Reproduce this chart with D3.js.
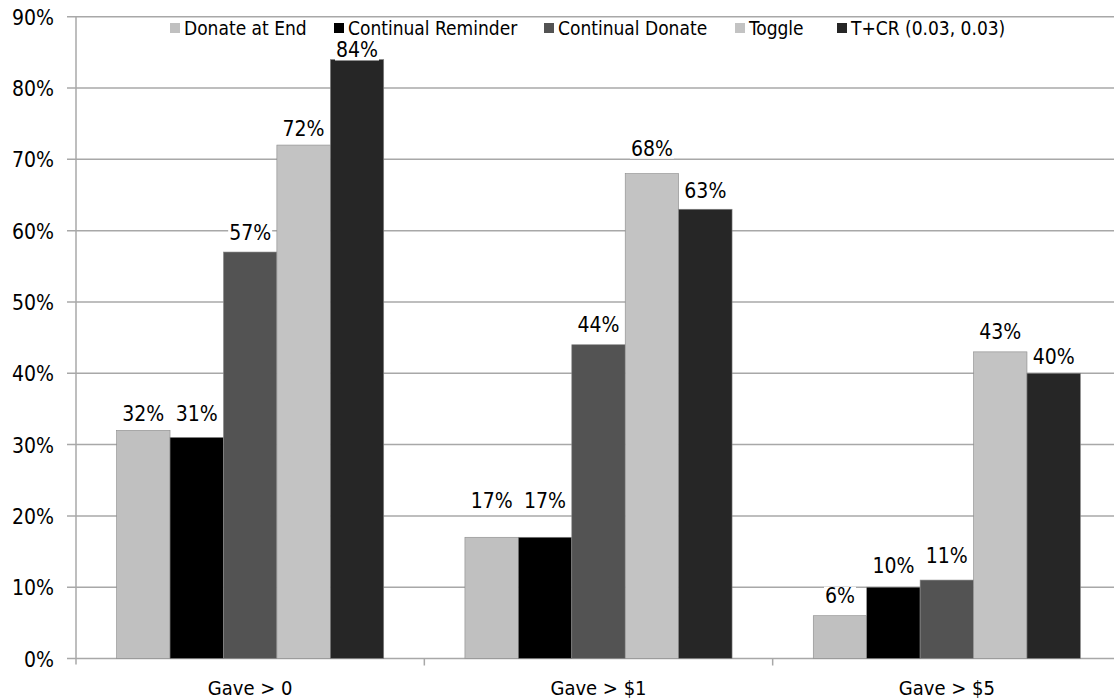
<!DOCTYPE html>
<html>
<head>
<meta charset="utf-8">
<script src="https://cdn.jsdelivr.net/npm/d3@7"></script>
<style>
  html, body { margin: 0; padding: 0; background: #fff; }
  svg { display: block; }
  text { font-family: "DejaVu Sans Condensed", "DejaVu Sans", sans-serif; fill: #000; }
</style>
</head>
<body>
<svg id="chart" width="1114" height="700"></svg>
<script>
// Share of participants who gave, by condition and donation threshold
const categories = ["Gave > 0", "Gave > $1", "Gave > $5"];
const seriesNames = ["Donate at End", "Continual Reminder", "Continual Donate", "Toggle", "T+CR (0.03, 0.03)"];
const seriesColors = ["#c0c0c0", "#000000", "#535353", "#c3c3c3", "#262626"];
const donateAtEnd       = [0.32, 0.17, 0.06];
const continualReminder = [0.31, 0.17, 0.10];
const continualDonate   = [0.57, 0.44, 0.11];
const toggle            = [0.72, 0.68, 0.43];
const tcr               = [0.84, 0.63, 0.40];
const seriesValues = [donateAtEnd, continualReminder, continualDonate, toggle, tcr];
const yTicks = [0, 0.1, 0.2, 0.3, 0.4, 0.5, 0.6, 0.7, 0.8, 0.9];

// layout: pixel gap between each bar top and its value label (series x category)
const labelGaps = [
  [9, 29, 13],
  [16, 29, 14],
  [12, 13, 17],
  [9, 18, 13],
  [2, 11, 9]
];

const svg = d3.select("#chart");
const plotLeft = 76, plotRight = 1121, plotTop = 16.7, plotBottom = 658.5;
const legendFont = 19, numberFont = 21, categoryFont = 20;

const x0 = d3.scaleBand().domain(categories).range([plotLeft, plotRight]).paddingInner(0).paddingOuter(0);
const x1 = d3.scaleBand().domain(seriesNames).range([0, x0.bandwidth()]).paddingInner(0).paddingOuter(0.76);
const y = d3.scaleLinear().domain([0, 0.9]).range([plotBottom, plotTop]);
const fmt = d3.format(".0%");

// horizontal gridlines with short ticks to the left of the axis
svg.append("g").selectAll("line").data(yTicks).join("line")
  .attr("x1", plotLeft - 9).attr("x2", plotRight)
  .attr("y1", d => y(d)).attr("y2", d => y(d))
  .attr("stroke", "#a8a8a8").attr("stroke-width", 1.5);

// value axis
const yAxis = svg.append("g").attr("transform", `translate(${plotLeft},0)`)
  .call(d3.axisLeft(y).tickValues(yTicks).tickFormat(fmt).tickSize(0).tickPadding(22));
yAxis.select(".domain").remove();
yAxis.selectAll("text").attr("font-size", numberFont).attr("font-family", null).attr("dy", "0.36em");

// bars
const groups = svg.append("g").selectAll("g").data(categories).join("g")
  .attr("transform", d => `translate(${x0(d)},0)`);

const cells = groups.selectAll("g")
  .data((c, ci) => seriesNames.map((s, si) => ({ s, si, ci, v: seriesValues[si][ci] })))
  .join("g");

cells.append("rect")
  .attr("x", d => x1(d.s)).attr("width", x1.bandwidth())
  .attr("y", d => y(d.v)).attr("height", d => plotBottom - y(d.v))
  .attr("fill", d => seriesColors[d.si])
  .attr("stroke", "#8a8a8a").attr("stroke-width", 0.6);

// value labels on white boxes
cells.each(function(d) {
  const g = d3.select(this);
  const cx = x1(d.s) + x1.bandwidth() / 2;
  const t = g.append("text")
    .attr("x", cx).attr("y", y(d.v) - labelGaps[d.si][d.ci])
    .attr("text-anchor", "middle").attr("font-size", numberFont)
    .text(fmt(d.v));
  const bb = t.node().getBBox();
  g.insert("rect", "text")
    .attr("x", bb.x - 1).attr("y", bb.y + 3).attr("width", bb.width + 2).attr("height", bb.height - 5)
    .attr("fill", "#fff");
});

// category axis
svg.append("line").attr("x1", plotLeft).attr("x2", plotLeft).attr("y1", plotTop).attr("y2", plotBottom + 6)
  .attr("stroke", "#a8a8a8").attr("stroke-width", 1.5);
const xAxis = svg.append("g").attr("transform", `translate(0,${plotBottom})`)
  .call(d3.axisBottom(x0).tickSize(0));
xAxis.select(".domain").remove();
xAxis.selectAll("text").attr("font-size", categoryFont).attr("font-family", null)
  .attr("y", 36).attr("dy", null);
svg.append("g").selectAll("line").data(categories.slice(1)).join("line")
  .attr("x1", d => x0(d)).attr("x2", d => x0(d))
  .attr("y1", plotBottom).attr("y2", plotBottom + 7)
  .attr("stroke", "#a8a8a8").attr("stroke-width", 1.5);

// legend
const legendX = [170, 334, 544, 735, 837];
const legend = svg.append("g").selectAll("g").data(seriesNames).join("g")
  .attr("transform", (d, i) => `translate(${legendX[i]},28)`);
legend.append("rect").attr("x", 0).attr("y", -5).attr("width", 10).attr("height", 10)
  .attr("fill", (d, i) => seriesColors[i]);
legend.append("text").attr("x", 14).attr("y", 0).attr("dy", "0.36em")
  .attr("font-size", legendFont).text(d => d);
</script>
</body>
</html>
